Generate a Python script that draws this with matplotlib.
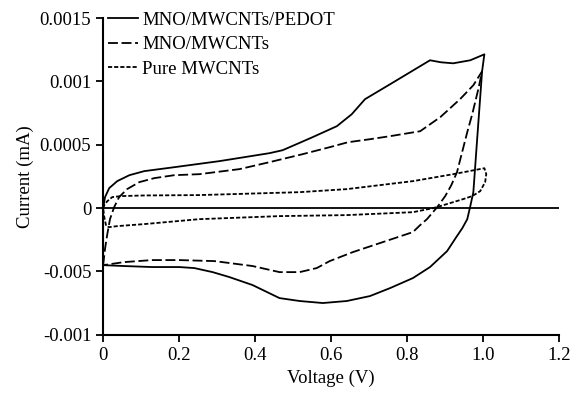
import numpy as np
import matplotlib
matplotlib.use("Agg")
import matplotlib.pyplot as plt

plt.rcParams['font.family'] = ['Liberation Serif', 'DejaVu Serif']

# MNO/MWCNTs/PEDOT loop (forward scan then reverse scan)
v_pedot = [0, 0.005, 0.016, 0.037, 0.069, 0.108, 0.187, 0.306, 0.438, 0.472, 0.509, 0.551,
           0.615, 0.654, 0.689, 0.755, 0.86, 0.889, 0.921, 0.966, 1.003,
           0.997, 0.984, 0.974, 0.966, 0.958, 0.945, 0.929, 0.905, 0.86, 0.815, 0.755,
           0.702, 0.641, 0.578, 0.517, 0.464, 0.393, 0.332, 0.288, 0.24, 0.2, 0.129,
           0.055, 0.0, 0.0]
i_pedot = [0, 0.000087, 0.000158, 0.000213, 0.00026, 0.000292, 0.000323, 0.000371, 0.000434,
           0.000457, 0.000505, 0.00056, 0.000647, 0.000741, 0.00086, 0.000978, 0.001167,
           0.001151, 0.001143, 0.001167, 0.001214,
           0.00108, 0.000544, 0.000126, 0.000016, -0.000087, -0.000158, -0.000229,
           -0.000339, -0.000465, -0.000552, -0.000631, -0.000694, -0.000733, -0.000749,
           -0.000733, -0.00071, -0.000607, -0.000544, -0.000505, -0.000473, -0.000465,
           -0.000465, -0.000457, -0.00045, 0]

# MNO/MWCNTs loop
v_mno = [0, 0.005, 0.011, 0.018, 0.029, 0.042, 0.063, 0.095, 0.135, 0.187, 0.253, 0.359,
         0.438, 0.525, 0.596, 0.644, 0.702, 0.755, 0.834, 0.887, 0.939, 0.974, 0.997,
         0.987, 0.971, 0.958, 0.931, 0.916, 0.9, 0.879, 0.852, 0.834, 0.815, 0.728, 0.657,
         0.596, 0.562, 0.517, 0.464, 0.393, 0.293, 0.2, 0.129, 0.055, 0]
i_mno = [-0.00045, -0.00032, -0.000205, -0.000087, 0.000008, 0.000087, 0.00015, 0.000205,
         0.000237, 0.00026, 0.000268, 0.000308, 0.000363, 0.000426, 0.000481, 0.00052,
         0.000544, 0.000568, 0.000607, 0.000718, 0.00086, 0.00097, 0.00108,
         0.000938, 0.000741, 0.0006, 0.000284, 0.000181, 0.000095, 0.000008, -0.000087,
         -0.000134, -0.000189, -0.000276, -0.000347, -0.000418, -0.000473, -0.000505,
         -0.000505, -0.000457, -0.000418, -0.00041, -0.00041, -0.000426, -0.00045]

# Pure MWCNTs loop
v_pure = [0, 0.003, 0.011, 0.024, 0.047, 0.108, 0.253, 0.517, 0.641, 0.815, 0.921, 1.003,
          1.008, 1.005, 0.992, 0.971, 0.947, 0.887, 0.868, 0.815, 0.641, 0.464, 0.253,
          0.108, 0.037, 0.016, 0.008, 0.003, 0]
i_pure = [0, 0.000024, 0.000055, 0.000087, 0.000095, 0.0001, 0.000103, 0.000126, 0.00015,
          0.000213, 0.000268, 0.000315, 0.000268, 0.000205, 0.000134, 0.000095, 0.000071,
          0.000016, 0.0, -0.000032, -0.000055, -0.000063, -0.000087, -0.000126, -0.000142,
          -0.00015, -0.000142, -0.000071, 0]

xticks = [0, 0.2, 0.4, 0.6, 0.8, 1.0, 1.2]
xlabels = ['0', '0.2', '0.4', '0.6', '0.8', '1.0', '1.2']
yticks = [-0.001, -0.0005, 0, 0.0005, 0.001, 0.0015]
ylabels = ['-0.001', '-0.005', '0', '0.0005', '0.001', '0.0015']

fig = plt.figure(figsize=(5.73, 3.93), dpi=100)
ax = fig.add_axes([0.18, 0.148, 0.796, 0.806])

ax.plot(v_pedot, i_pedot, color='black', lw=1.3, ls='-', label='MNO/MWCNTs/PEDOT')
ax.plot(v_mno, i_mno, color='black', lw=1.3, ls=(0, (5.5, 2)), label='MNO/MWCNTs')
ax.plot(v_pure, i_pure, color='black', lw=1.3, ls=(0, (2.3, 1.1)), label='Pure MWCNTs')
ax.axhline(0, color='black', lw=1.3)

ax.set_xlim(0, 1.2)
ax.set_ylim(-0.001, 0.0015)
ax.set_xticks(xticks)
ax.set_xticklabels(xlabels)
ax.set_yticks(yticks)
ax.set_yticklabels(ylabels)
ax.tick_params(direction='out', length=5, width=1.3, labelsize=13.5, colors='black')

for s in ['top', 'right']:
    ax.spines[s].set_visible(False)
for s in ['left', 'bottom']:
    ax.spines[s].set_linewidth(1.5)

ax.set_xlabel('Voltage (V)', fontsize=13.5)
ax.set_ylabel('Current (mA)', fontsize=13.5)

ax.legend(loc='upper left', bbox_to_anchor=(-0.015, 1.055), frameon=False, fontsize=13.5,
          handlelength=1.6, handletextpad=0.25, labelspacing=0.38, borderaxespad=0.2)

fig.savefig('out.png', dpi=100)
